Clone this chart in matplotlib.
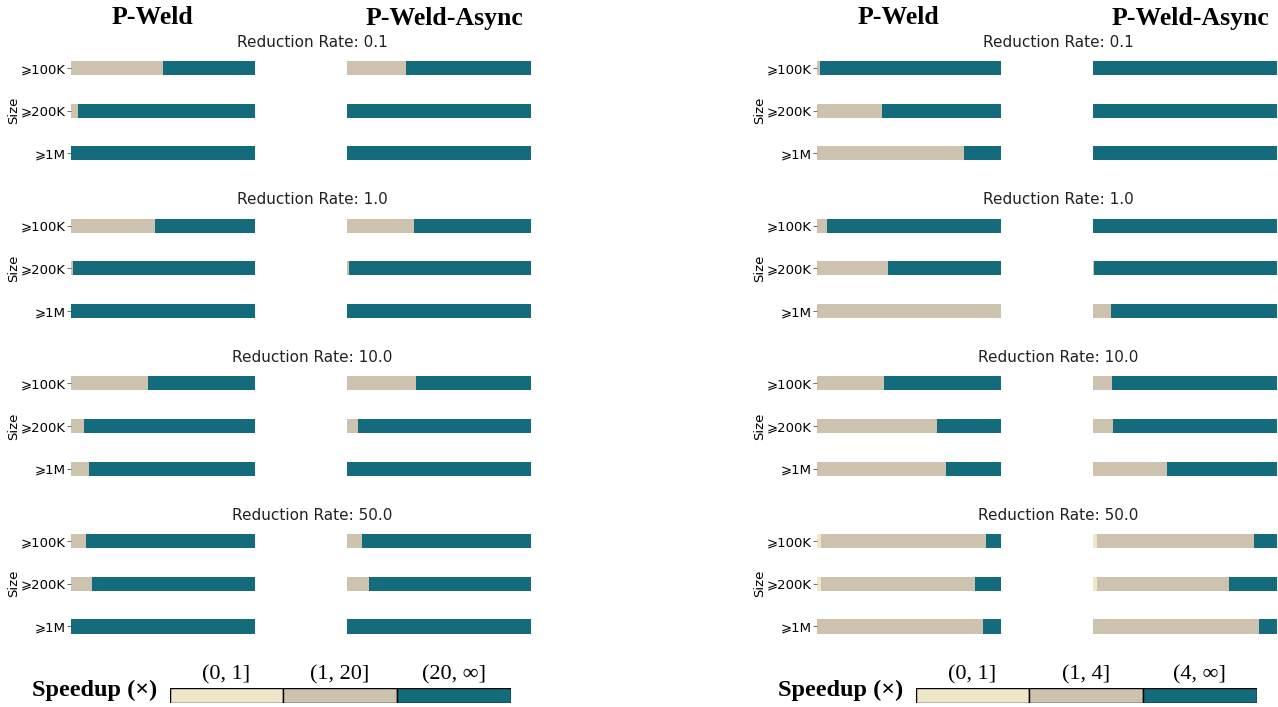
import matplotlib
matplotlib.use("Agg")
import matplotlib.pyplot as plt
import numpy as np

# ---------------------------------------------------------------- data
sizes = ["⩾100K", "⩾200K", "⩾1M"]
rates = ["0.1", "1.0", "10.0", "50.0"]
methods = ["P-Weld", "P-Weld-Async"]

# Share of queries falling in each speedup bin, indexed [rate][method][size]
# Left block: bins (0,1], (1,20], (20,inf]
left_bins = ["(0, 1]", "(1, 20]", "(20, ∞]"]
left_low = [
    [[0.0, 0.0, 0.0], [0.0, 0.0, 0.0]],
    [[0.0, 0.0, 0.0], [0.0, 0.0, 0.0]],
    [[0.0, 0.0, 0.0], [0.0, 0.0, 0.0]],
    [[0.0, 0.0, 0.0], [0.0, 0.0, 0.0]],
]
left_mid = [
    [[0.50, 0.036, 0.0], [0.32, 0.0, 0.0]],
    [[0.456, 0.013, 0.0], [0.362, 0.009, 0.0]],
    [[0.418, 0.068, 0.099], [0.375, 0.062, 0.0]],
    [[0.081, 0.114, 0.0], [0.079, 0.12, 0.0]],
]
left_high = [
    [[0.50, 0.964, 1.0], [0.68, 1.0, 1.0]],
    [[0.544, 0.987, 1.0], [0.638, 0.991, 1.0]],
    [[0.582, 0.932, 0.901], [0.625, 0.938, 1.0]],
    [[0.919, 0.886, 1.0], [0.921, 0.88, 1.0]],
]

# Right block: bins (0,1], (1,4], (4,inf]
right_bins = ["(0, 1]", "(1, 4]", "(4, ∞]"]
right_low = [
    [[0.0, 0.0, 0.0], [0.0, 0.0, 0.0]],
    [[0.0, 0.0, 0.0], [0.0, 0.0, 0.0]],
    [[0.0, 0.0, 0.0], [0.0, 0.0, 0.0]],
    [[0.022, 0.024, 0.0], [0.022, 0.022, 0.0]],
]
right_mid = [
    [[0.015, 0.351, 0.80], [0.0, 0.0, 0.0]],
    [[0.052, 0.385, 1.0], [0.0, 0.005, 0.099]],
    [[0.363, 0.654, 0.70], [0.103, 0.107, 0.40]],
    [[0.896, 0.832, 0.90], [0.853, 0.718, 0.90]],
]
right_high = [
    [[0.985, 0.649, 0.20], [1.0, 1.0, 1.0]],
    [[0.948, 0.615, 0.0], [1.0, 0.995, 0.901]],
    [[0.637, 0.346, 0.30], [0.897, 0.893, 0.60]],
    [[0.082, 0.144, 0.10], [0.125, 0.26, 0.10]],
]

bin_colors = ["#EEE6C8", "#CCC2AE", "#136B7B"]

# ---------------------------------------------------------------- figure
W, H = 1278, 707
fig = plt.figure(figsize=(W / 100, H / 100), dpi=100)


def px_axes(x0, y0, x1, y1):
    return fig.add_axes([x0 / W, 1 - y1 / H, (x1 - x0) / W, (y1 - y0) / H])


serif = "Liberation Serif"
blocks = [
    (0, left_low, left_mid, left_high, left_bins),
    (746, right_low, right_mid, right_high, right_bins),
]

bar_w = 184
col_x = [71, 347]
header_x = [152, 444]
group_top0, group_step, group_h = 46.7, 157.7, 128.0

for off, low, mid, high, bins in blocks:
    for mi, name in enumerate(methods):
        fig.text((off + header_x[mi]) / W, 1 - 18 / H, name, family=serif,
                 weight="bold", fontsize=18.5, ha="center", va="center")
    for ri, rate in enumerate(rates):
        top = group_top0 + ri * group_step
        fig.text((off + 312) / W, 1 - (top - 4.5) / H, f"Reduction Rate: {rate}",
                 fontsize=11, ha="center", va="center", color="#222222")
        for mi in range(len(methods)):
            x0 = off + col_x[mi]
            ax = px_axes(x0, top, x0 + bar_w, top + group_h)
            y = np.arange(len(sizes))
            lo = np.array(low[ri][mi])
            md = np.array(mid[ri][mi])
            hi = np.array(high[ri][mi])
            ax.barh(y, lo, height=0.33, color=bin_colors[0], linewidth=0)
            ax.barh(y, md, left=lo, height=0.33, color=bin_colors[1], linewidth=0)
            ax.barh(y, hi, left=lo + md, height=0.33, color=bin_colors[2], linewidth=0)
            ax.set_xlim(0, 1)
            ax.set_ylim(len(sizes) - 0.5, -0.5)
            for s in ax.spines.values():
                s.set_visible(False)
            ax.set_xticks([])
            if mi == 0:
                ax.set_yticks(y)
                ax.set_yticklabels(sizes, fontsize=9.5)
                ax.tick_params(axis="y", length=3, width=0.6, pad=1,
                               color="#555555")
                ax.set_ylabel("Size", fontsize=9.5, labelpad=0)
            else:
                ax.set_yticks([])

    # speedup legend strip
    lax = px_axes(off + 169.6, 688, off + 510.6, 702.5)
    for bi, lab in enumerate(bins):
        lax.barh(0, 1, left=bi, height=1, color=bin_colors[bi],
                 edgecolor="black", linewidth=1)
        lax.text(bi + 0.5, 1.4, lab, family=serif, fontsize=16,
                 ha="center", va="center")
    lax.set_xlim(0, len(bins))
    lax.set_ylim(-0.5, 0.5)
    lax.axis("off")
    fig.text((off + 157) / W, 1 - 690 / H, "Speedup (×)", family=serif,
             weight="bold", fontsize=17.5, ha="right", va="center")

fig.savefig("out.png", dpi=100)
